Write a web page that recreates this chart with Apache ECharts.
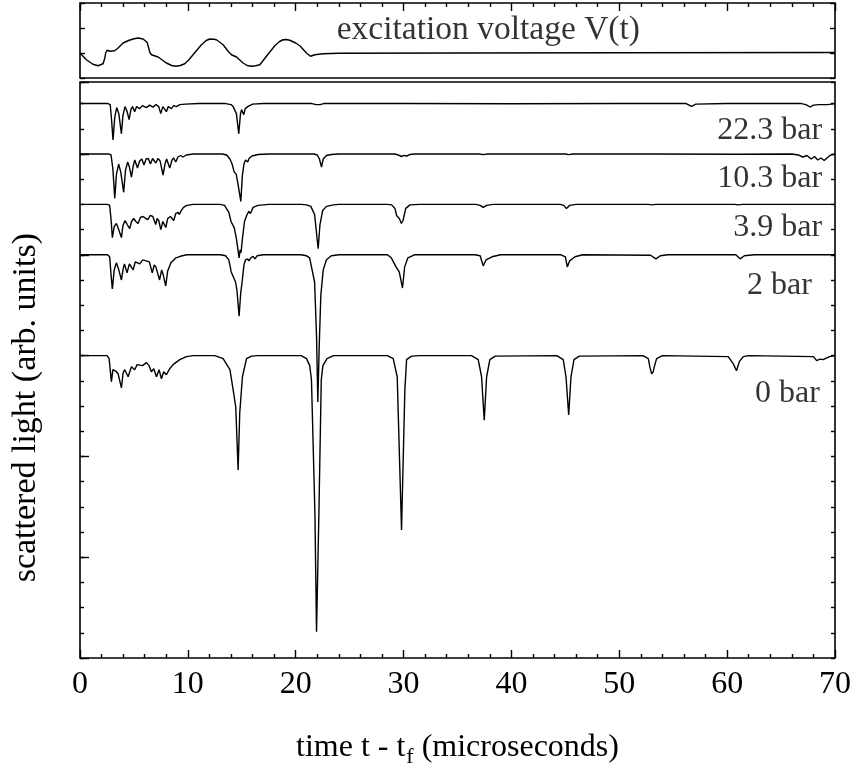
<!DOCTYPE html>
<html><head><meta charset="utf-8">
<script src="https://cdn.jsdelivr.net/npm/echarts/dist/echarts.min.js"></script>
<style>html,body{margin:0;padding:0;background:#fff}#c{width:851px;height:769px}</style>
</head><body><div id="c"></div>
<script>
// ---- data (time in microseconds, signal in arbitrary units incl. trace offsets) ----
const voltage = [[0,0],[0.59,-0.27],[1.2,-0.45],[1.67,-0.51],[2.14,-0.43],[2.3,-0.2],[2.38,0.0],[2.51,0.11],[2.65,0.07],[2.76,0.07],[3.22,0.09],[3.53,0.2],[3.99,0.4],[4.5,0.5],[4.92,0.56],[5.38,0.6],[5.85,0.56],[6.22,0.43],[6.4,0.15],[6.47,0.03],[6.62,-0.07],[7.24,-0.16],[8.01,-0.4],[8.5,-0.5],[8.88,-0.53],[9.3,-0.5],[9.71,-0.43],[10.1,-0.27],[10.48,-0.07],[11.26,0.33],[11.7,0.5],[12.03,0.56],[12.4,0.55],[12.65,0.53],[13.27,0.33],[13.73,0.07],[14.04,-0.07],[14.51,-0.16],[15.12,-0.4],[15.5,-0.5],[15.9,-0.53],[16.3,-0.51],[16.67,-0.47],[17.29,-0.13],[18.06,0.29],[18.5,0.46],[18.83,0.53],[19.1,0.54],[19.45,0.51],[20.0,0.4],[20.38,0.29],[21.0,0.0],[21.37,-0.13],[21.77,-0.07],[22.54,-0.03],[24,-0.01],[35,0.0],[50,0.01],[70,0.02]];

const bar22_3 = [[0,5.5],[2.6,5.5],[2.8,5.49],[2.92,5.35],[3.06,5.14],[3.22,5.36],[3.4,5.46],[3.6,5.40],[3.84,5.20],[3.98,5.38],[4.17,5.47],[4.37,5.42],[4.55,5.34],[4.72,5.44],[4.87,5.47],[5.07,5.42],[5.25,5.47],[5.54,5.45],[5.78,5.48],[6.16,5.46],[6.45,5.485],[6.77,5.465],[7.05,5.49],[7.3,5.47],[7.49,5.40],[7.68,5.47],[7.83,5.46],[8.01,5.42],[8.18,5.47],[8.48,5.45],[8.68,5.48],[8.94,5.47],[9.25,5.49],[9.8,5.495],[11,5.5],[13.5,5.5],[14.0,5.49],[14.2,5.47],[14.5,5.40],[14.72,5.20],[14.88,5.40],[14.98,5.44],[15.18,5.39],[15.32,5.45],[15.55,5.47],[16,5.495],[17,5.5],[21.5,5.5],[21.9,5.49],[22.08,5.475],[22.25,5.49],[22.6,5.5],[30,5.5],[40,5.498],[50,5.5],[56.2,5.5],[56.7,5.473],[57.1,5.495],[60,5.5],[66.9,5.5],[67.3,5.49],[67.7,5.466],[68.0,5.485],[68.5,5.49],[69.3,5.49],[70,5.5]];

const bar10_3 = [[0,5.0],[2.65,5.0],[2.88,4.99],[3.05,4.85],[3.22,4.56],[3.38,4.80],[3.58,4.90],[3.78,4.82],[4.05,4.62],[4.22,4.84],[4.42,4.92],[4.58,4.87],[4.77,4.77],[4.93,4.88],[5.08,4.94],[5.33,4.86],[5.53,4.93],[5.73,4.95],[5.93,4.89],[6.13,4.95],[6.33,4.955],[6.53,4.90],[6.73,4.955],[6.88,4.96],[7.03,4.91],[7.23,4.955],[7.43,4.93],[7.7,4.79],[7.88,4.90],[8.03,4.95],[8.32,4.86],[8.53,4.94],[8.68,4.96],[8.88,4.92],[9.08,4.97],[9.33,4.985],[9.55,4.97],[9.85,4.99],[10.5,5.0],[13.2,5.0],[13.6,4.99],[13.9,4.95],[14.1,4.90],[14.3,4.82],[14.48,4.80],[14.65,4.70],[14.91,4.53],[15.05,4.78],[15.2,4.90],[15.35,4.94],[15.55,4.92],[15.7,4.96],[15.95,4.98],[16.5,4.995],[17.5,5.0],[21.7,5.0],[22.0,4.99],[22.2,4.95],[22.39,4.87],[22.55,4.95],[22.85,4.985],[23.3,4.995],[24,5.0],[29.2,5.0],[29.5,4.99],[29.8,4.975],[30.0,4.985],[30.3,4.98],[30.6,4.995],[31,5.0],[37,5.0],[37.4,4.993],[37.8,5.0],[45,5.0],[45.3,4.993],[45.7,5.0],[53,5.0],[61,4.997],[66,5.0],[66.6,4.99],[67.0,4.97],[67.4,4.985],[67.8,4.95],[68.1,4.975],[68.4,4.94],[68.7,4.96],[69.0,4.935],[69.3,4.965],[69.6,4.99],[70,5.0]];

const bar3_9 = [[0,4.5],[2.55,4.5],[2.75,4.49],[2.88,4.35],[3.0,4.17],[3.17,4.28],[3.37,4.31],[3.52,4.27],[3.84,4.17],[3.98,4.29],[4.18,4.34],[4.38,4.30],[4.61,4.26],[4.78,4.33],[4.98,4.36],[5.18,4.33],[5.38,4.31],[5.6,4.37],[5.85,4.38],[6.1,4.36],[6.31,4.35],[6.5,4.39],[6.75,4.38],[7.02,4.30],[7.15,4.36],[7.3,4.34],[7.49,4.25],[7.68,4.33],[7.95,4.27],[8.13,4.36],[8.38,4.38],[8.69,4.34],[8.88,4.41],[9.09,4.42],[9.2,4.40],[9.4,4.44],[9.6,4.47],[9.9,4.49],[10.5,4.5],[13,4.5],[13.4,4.49],[13.8,4.42],[14.0,4.33],[14.3,4.27],[14.5,4.16],[14.75,3.97],[14.85,4.05],[14.93,4.02],[15.05,4.15],[15.25,4.33],[15.45,4.39],[15.65,4.43],[15.8,4.41],[16.05,4.47],[16.5,4.49],[17.5,4.5],[20.5,4.5],[21.0,4.495],[21.4,4.48],[21.75,4.40],[22.08,4.06],[22.25,4.30],[22.5,4.44],[22.85,4.48],[23.5,4.495],[24,4.5],[28.5,4.5],[28.9,4.495],[29.2,4.46],[29.35,4.39],[29.6,4.36],[29.8,4.31],[29.95,4.34],[30.2,4.46],[30.6,4.495],[31.5,4.5],[36.7,4.5],[37.1,4.49],[37.38,4.47],[37.7,4.49],[38.3,4.5],[44.5,4.5],[44.85,4.49],[45.1,4.46],[45.4,4.49],[46,4.5],[52.7,4.5],[53.0,4.495],[53.4,4.5],[60.7,4.5],[61.0,4.495],[61.4,4.5],[70,4.5]];

const bar2 = [[0,4.0],[2.55,4.0],[2.75,3.98],[2.88,3.8],[3.0,3.66],[3.17,3.85],[3.37,3.92],[3.57,3.86],[3.84,3.75],[4.02,3.87],[4.12,3.91],[4.36,3.82],[4.58,3.91],[4.93,3.85],[5.12,3.93],[5.54,3.91],[5.82,3.95],[6.13,3.94],[6.43,3.93],[6.7,3.82],[6.88,3.90],[7.03,3.88],[7.38,3.75],[7.57,3.85],[7.72,3.80],[7.95,3.69],[8.13,3.84],[8.43,3.92],[8.9,3.97],[9.3,3.985],[9.9,4.0],[13.0,4.0],[13.5,3.99],[13.8,3.95],[14.02,3.83],[14.22,3.78],[14.42,3.73],[14.55,3.65],[14.75,3.39],[14.9,3.62],[15.05,3.75],[15.2,3.90],[15.35,3.95],[15.55,3.96],[15.65,3.94],[15.85,3.97],[16.05,3.985],[16.22,3.96],[16.42,3.99],[17,4.0],[20.5,4.0],[21.0,3.99],[21.29,3.97],[21.75,3.73],[21.93,3.2],[22.05,2.54],[22.18,3.1],[22.33,3.6],[22.55,3.85],[22.85,3.95],[23.3,3.99],[24,4.0],[28.5,4.0],[28.86,3.97],[29.3,3.88],[29.6,3.83],[29.9,3.67],[30.1,3.88],[30.4,3.97],[31,4.0],[36.6,4.0],[37.1,3.99],[37.38,3.89],[37.65,3.95],[38.2,3.98],[39,4.0],[44.6,4.0],[45.0,3.98],[45.18,3.88],[45.4,3.94],[45.9,3.98],[46.6,4.0],[52.9,3.995],[53.4,3.96],[53.8,3.99],[54.5,4.0],[60.8,4.0],[61.2,3.96],[61.6,3.99],[62.5,4.0],[70,4.0]];

const bar0 = [[0,3.0],[2.5,3.0],[2.7,2.97],[2.91,2.74],[3.05,2.86],[3.22,2.87],[3.38,2.84],[3.53,2.82],[3.84,2.68],[4.0,2.83],[4.15,2.86],[4.46,2.79],[4.77,2.89],[5.07,2.86],[5.3,2.91],[5.48,2.92],[5.79,2.90],[6.16,2.93],[6.4,2.9],[6.62,2.84],[6.84,2.87],[7.09,2.79],[7.33,2.86],[7.55,2.77],[7.76,2.84],[8.01,2.81],[8.32,2.87],[8.63,2.91],[9.25,2.96],[9.87,2.99],[10.5,3.0],[12.5,3.0],[13.27,2.97],[13.9,2.86],[14.2,2.66],[14.44,2.49],[14.66,1.865],[14.81,2.43],[15.06,2.79],[15.44,2.97],[15.9,2.995],[16.5,3.0],[20.5,3.0],[21.0,2.97],[21.3,2.9],[21.46,2.76],[21.78,1.44],[21.93,0.26],[22.15,1.44],[22.37,2.76],[22.52,2.9],[22.9,2.97],[23.5,3.0],[28.5,3.0],[29.04,2.97],[29.41,2.79],[29.81,1.27],[30.12,2.66],[30.28,2.96],[30.74,2.995],[31.5,3.0],[36.3,3.0],[36.92,2.96],[37.23,2.79],[37.48,2.36],[37.7,2.79],[38.0,2.96],[38.5,2.995],[44.2,3.0],[44.8,2.96],[45.06,2.79],[45.31,2.41],[45.52,2.79],[45.8,2.96],[46.3,2.995],[52.2,3.0],[52.69,2.97],[52.85,2.88],[53.0,2.82],[53.15,2.84],[53.25,2.89],[53.46,2.97],[54,3.0],[60.1,2.99],[60.56,2.92],[60.87,2.85],[61.13,2.94],[61.5,2.99],[62,3.0],[68.0,2.99],[68.3,2.95],[68.6,2.965],[68.9,2.96],[69.5,2.99],[70,3.0]];

// trace labels: [text, right-edge time, vertical centre]
const traceLabels = [['22.3 bar',68.8,5.23],['10.3 bar',68.8,4.76],['3.9 bar',68.8,4.27],['2 bar',67.85,3.69],['0 bar',68.6,2.62]];
const voltageLabel = [['excitation voltage V(t)',23.8,0.92]];

const xMin = 0, xMax = 70, xMajor = 10;
const lightMax = 5.714;

const font = 'Liberation Serif';
const chart = echarts.init(document.getElementById('c'));
const tickCommon = {show:true, inside:true, lineStyle:{color:'#000', width:1.4}};
function hiddenX(grid, pos, ticks){
  return {type:'value', gridIndex:grid, position:pos, min:xMin, max:xMax, interval:xMajor,
    axisLine:{show:false, onZero:false}, splitLine:{show:false}, axisLabel:{show:false},
    axisTick: ticks ? Object.assign({length:8}, tickCommon) : {show:false},
    minorTick: ticks ? {show:true, splitNumber:5, length:4, lineStyle:{color:'#000', width:1.4}} : {show:false}};
}
function yAx(grid, pos, min, max, interval, len){
  return {type:'value', gridIndex:grid, position:pos, min:min, max:max, interval:interval,
    axisLine:{show:false, onZero:false}, splitLine:{show:false}, axisLabel:{show:false},
    axisTick:Object.assign({length:len}, tickCommon)};
}
function lineSeries(data, xi, yi){
  return {type:'line', data:data, xAxisIndex:xi, yAxisIndex:yi, showSymbol:false, symbol:'none',
    lineStyle:{color:'#000', width:1.4}, silent:true, animation:false, z:3};
}
function labelSeries(data, xi, yi, pos, size){
  return {type:'scatter', data:data.map(d=>[d[1], d[2], d[0]]), xAxisIndex:xi, yAxisIndex:yi,
    symbolSize:0, silent:true, animation:false,
    label:{show:true, position:pos, distance:0, formatter:p=>p.data[2], color:'#000', fontFamily:font, fontSize:size}};
}

chart.setOption({
  animation:false,
  backgroundColor:'#fff',
  grid:[
    {left:80, right:16, top:3, height:75, show:true, borderColor:'#000', borderWidth:1.6, outerBoundsMode:'none', containLabel:false},
    {left:80, right:16, top:82, height:576, show:true, borderColor:'#000', borderWidth:1.6, outerBoundsMode:'none', containLabel:false}
  ],
  xAxis:[
    hiddenX(0,'bottom',false),
    hiddenX(0,'top',true),
    {type:'value', gridIndex:1, position:'bottom', min:xMin, max:xMax, interval:xMajor,
      axisLine:{show:false, onZero:false}, splitLine:{show:false},
      axisTick:Object.assign({length:8}, tickCommon),
      minorTick:{show:true, splitNumber:5, length:4, lineStyle:{color:'#000', width:1.4}},
      axisLabel:{show:true, margin:11, color:'#000', fontFamily:font, fontSize:32, showMinLabel:true, showMaxLabel:true, hideOverlap:false},
      name:'{a|time t - t}{s|f}{a| (microseconds)}', nameLocation:'middle', nameGap:65,
      nameTextStyle:{rich:{
        a:{fontFamily:font, fontSize:32, color:'#000', lineHeight:36, verticalAlign:'top'},
        s:{fontFamily:font, fontSize:22, color:'#000', lineHeight:24, padding:[40,0,0,1], verticalAlign:'bottom'}
      }}
    }
  ],
  yAxis:[
    yAx(0,'left',-1,2,1,5),
    yAx(0,'right',-1,2,1,5),
    yAx(1,'left',0,lightMax,0.25,4),
    yAx(1,'left',0,lightMax,1,9),
    yAx(1,'right',0,lightMax,0.25,4)
  ],
  graphic:[{type:'text', left:9, top:233, style:{text:'scattered light (arb. units)', font:'34px "Liberation Serif"', fill:'#000'}, rotation:Math.PI/2, originX:0, originY:0}],
  series:[
    lineSeries(voltage,0,0),
    lineSeries(bar22_3,2,2),
    lineSeries(bar10_3,2,2),
    lineSeries(bar3_9,2,2),
    lineSeries(bar2,2,2),
    lineSeries(bar0,2,2),
    labelSeries(traceLabels,2,2,'left',32),
    labelSeries(voltageLabel,0,0,'right',33.5)
  ]
});
</script></body></html>
